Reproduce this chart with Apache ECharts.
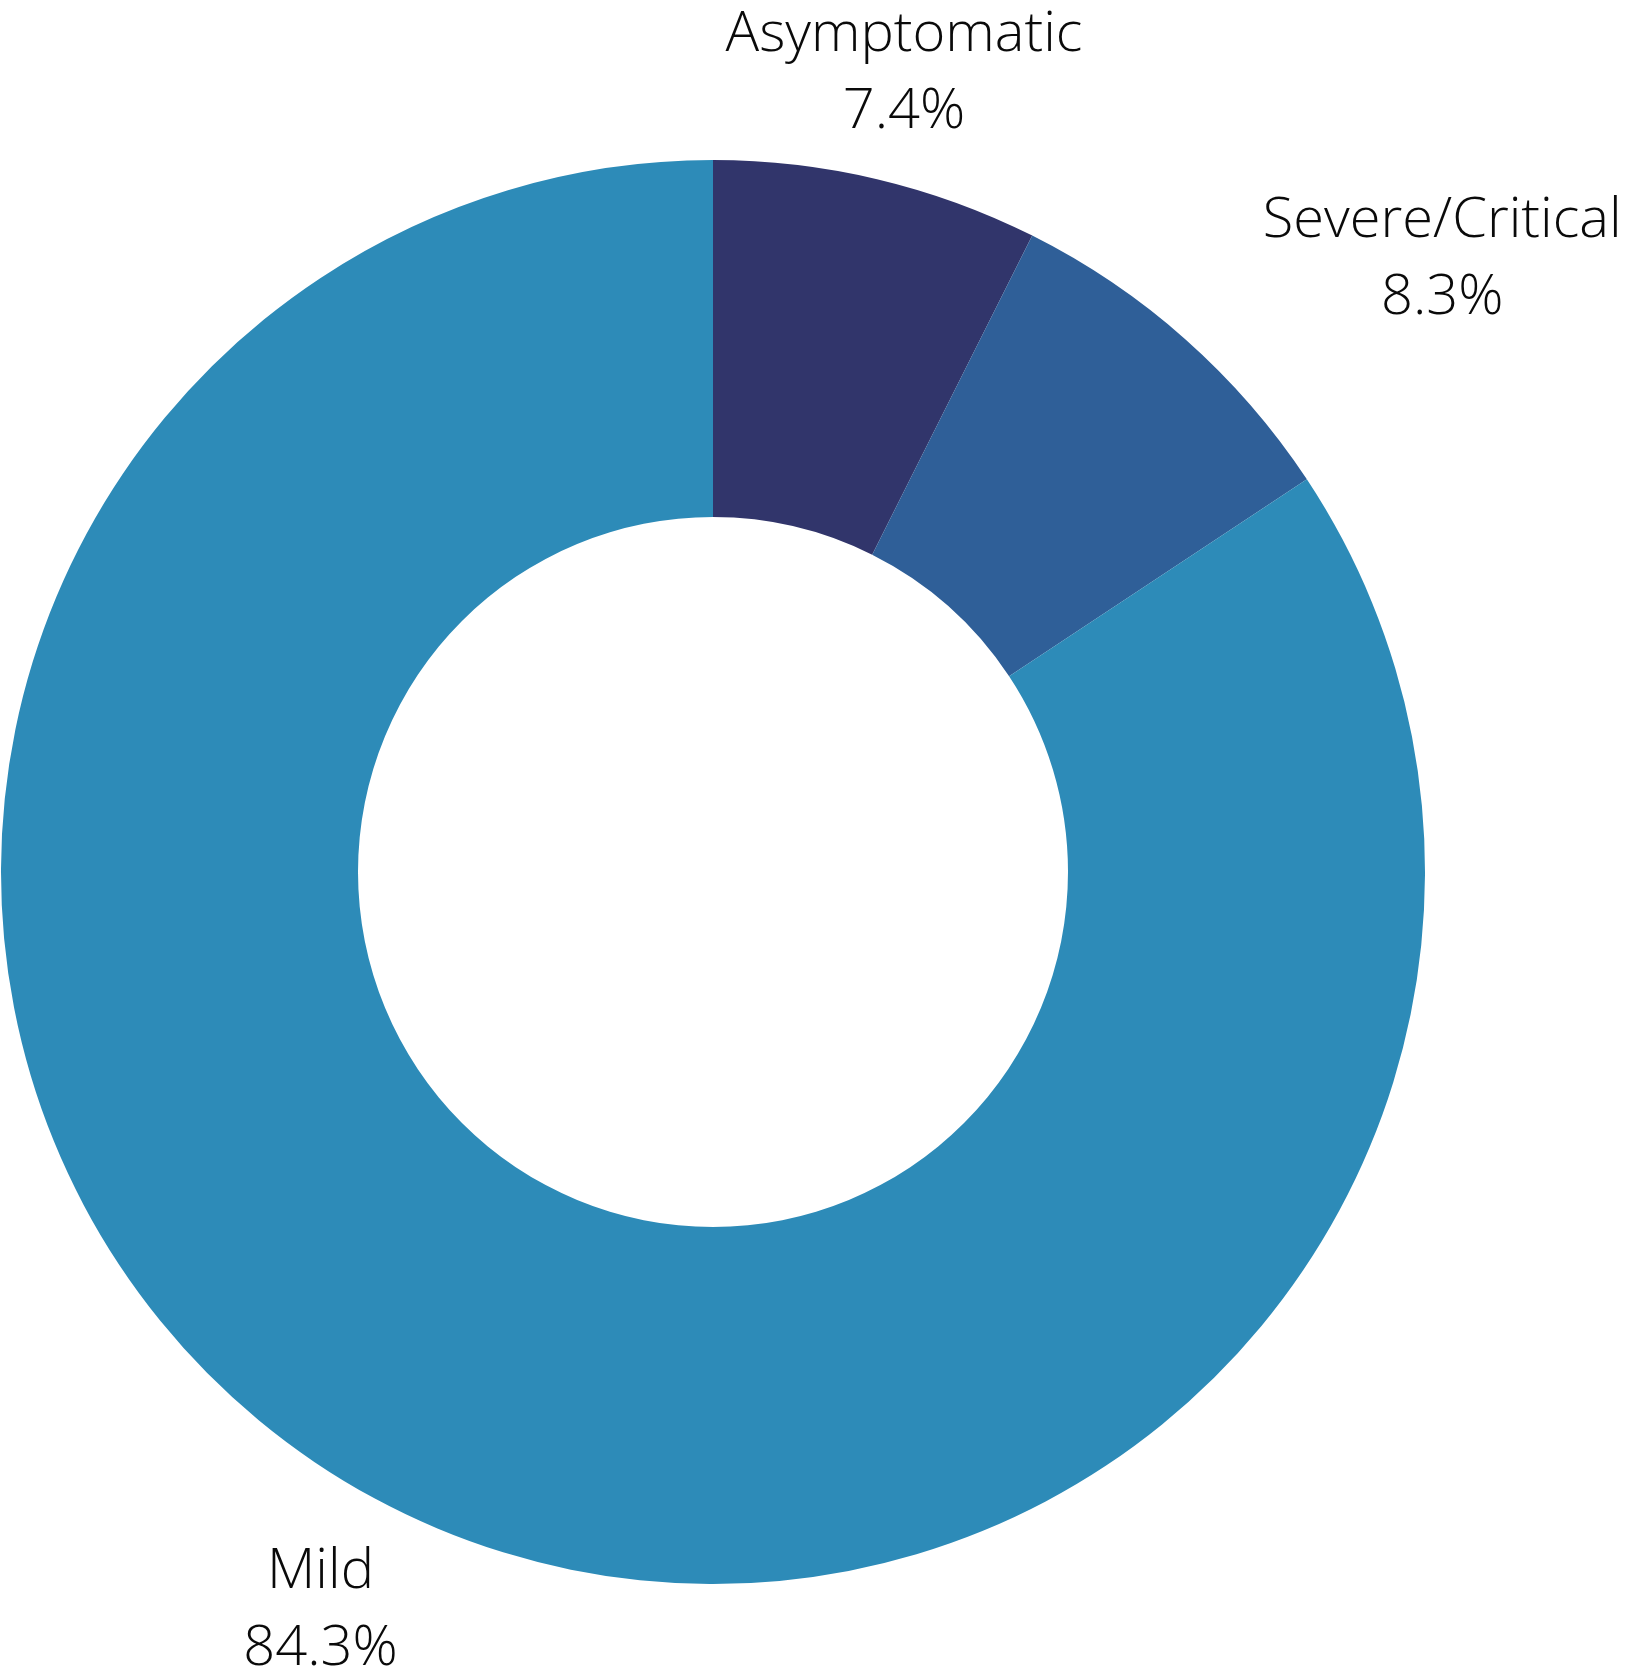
<!DOCTYPE html>
<html>
<head>
<meta charset="utf-8">
<script src="https://cdn.jsdelivr.net/npm/echarts@6/dist/echarts.min.js"></script>
<style>
  html, body { margin: 0; padding: 0; background: #fff; }
  #chart { width: 1625px; height: 1668px; }
</style>
</head>
<body>
<div id="chart"></div>
<script>
// categories and shares (%), clockwise from 12 o'clock
const categories = ["Asymptomatic", "Severe/Critical", "Mild"];
const shares = [7.4, 8.3, 84.3];
const colors = ["#31356b", "#2f5f98", "#2d8bb8"];

// ring geometry
const cx = 713, cy = 872;
const innerR = 355, outerR = 712;
const labelDist = 829;
const labelDy = 8;
// severe label sits further right in the original
const labelShiftX = [0, 179, 0];

const total = shares.reduce((a, b) => a + b, 0);
const midAngles = [];
let acc = 0;
shares.forEach((v) => {
  const mid = acc + v / 2;
  // degrees from +x axis, starting at 12 o'clock going clockwise
  midAngles.push(90 - (mid / total) * 360);
  acc += v;
});

const myChart = echarts.init(document.getElementById("chart"));
const option = {
  animation: false,
  series: [
    {
      type: "pie",
      center: [cx, cy],
      radius: [innerR, outerR],
      startAngle: 90,
      clockwise: true,
      avoidLabelOverlap: false,
      itemStyle: { borderWidth: 0 },
      label: {
        show: true,
        position: "outside",
        formatter: "{b}\n{c}%",
        fontFamily: "Open Sans",
        fontWeight: 300,
        fontSize: 56,
        lineHeight: 77,
        color: "#0a0a0a",
        align: "center",
      },
      labelLine: { show: false },
      labelLayout: (params) => {
        const i = params.dataIndex;
        const a = (midAngles[i] * Math.PI) / 180;
        return {
          x: cx + labelDist * Math.cos(a) + labelShiftX[i],
          y: cy - labelDist * Math.sin(a) + labelDy,
          align: "center",
          verticalAlign: "middle",
        };
      },
      data: categories.map((name, i) => ({
        name: name,
        value: shares[i],
        itemStyle: { color: colors[i] },
      })),
    },
  ],
};
myChart.setOption(option);
</script>
</body>
</html>
